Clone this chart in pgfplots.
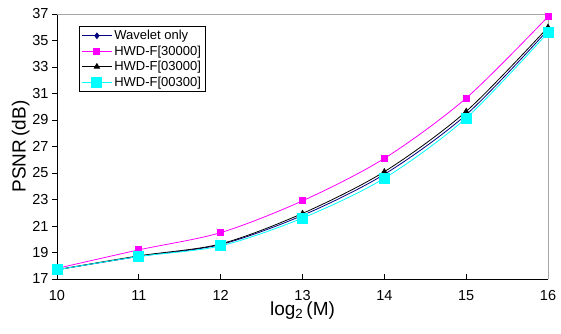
\documentclass[border=0pt]{standalone}
\usepackage{pgfplots}
\pgfplotsset{compat=1.18}
\usepackage{fontspec}
\setmainfont{Liberation Sans}
\definecolor{navyc}{RGB}{0,0,128}
\definecolor{magc}{RGB}{255,0,255}
\definecolor{cyanc}{RGB}{0,255,255}
\begin{document}
\begin{tikzpicture}
\path[use as bounding box] (-57pt,-54pt) rectangle (504pt,279pt);
\begin{axis}[
  at={(0,0)}, anchor=south west,
  scale only axis, width=491pt, height=265pt,
  xmin=10, xmax=16, ymin=17, ymax=37,
  xtick={10,...,16}, ytick={17,19,...,37},
  axis x line*=bottom, axis y line*=left,
  axis line style={black, line width=0.8pt},
  x tick style={black, line width=0.8pt}, y tick style={black, line width=0.8pt},
  xtick align=inside, ytick align=outside,
  major tick length=5pt,
  tick label style={font=\fontsize{14.5}{14.5}\selectfont},
  /pgf/number format/assume math mode=true,
  xticklabel style={yshift=-8pt},
  xlabel={\fontsize{19}{19}\selectfont log\textsubscript{2}\,(M)},
  ylabel={\fontsize{19}{19}\selectfont PSNR\,(dB)},
  xlabel style={yshift=6pt},
  ylabel style={yshift=-4pt},
  legend style={at={(0.045,0.955)}, anchor=north west, draw=black, line width=0.8pt,
    font=\fontsize{13}{15}\selectfont, inner sep=2pt, row sep=0.5pt},
  legend image code/.code={
    \draw[mark repeat=2,mark phase=2] plot coordinates {(0pt,0pt)(15pt,0pt)(30pt,0pt)};
  },
  legend cell align=left,
  clip=false,
]
\draw[gray!70, line width=0.8pt] (rel axis cs:0,1) -- (rel axis cs:1,1) -- (rel axis cs:1,0);
\addplot[navyc, line width=0.8pt, smooth, mark=diamond*, mark size=2.8pt, mark options={solid, fill=navyc}]
  coordinates {(10,17.7)(11,18.7)(12,19.6)(13,21.8)(14,24.9)(15,29.4)(16,35.8)};
\addlegendentry{Wavelet only}
\addplot[magc, line width=0.8pt, smooth, mark=square*, mark size=3pt, mark options={solid, fill=magc}]
  coordinates {(10,17.8)(11,19.2)(12,20.5)(13,22.9)(14,26.1)(15,30.65)(16,36.8)};
\addlegendentry{HWD-F[30000]}
\addplot[black, line width=0.8pt, smooth, mark=triangle*, mark size=3pt, mark options={solid, fill=black}]
  coordinates {(10,17.7)(11,18.75)(12,19.65)(13,21.95)(14,25.1)(15,29.65)(16,36.0)};
\addlegendentry{HWD-F[03000]}
\addplot[cyanc, line width=0.8pt, smooth, mark=square*, mark size=5pt, mark options={solid, fill=cyanc}]
  coordinates {(10,17.7)(11,18.7)(12,19.5)(13,21.6)(14,24.6)(15,29.15)(16,35.6)};
\addlegendentry{HWD-F[00300]}
\end{axis}
\end{tikzpicture}
\end{document}
